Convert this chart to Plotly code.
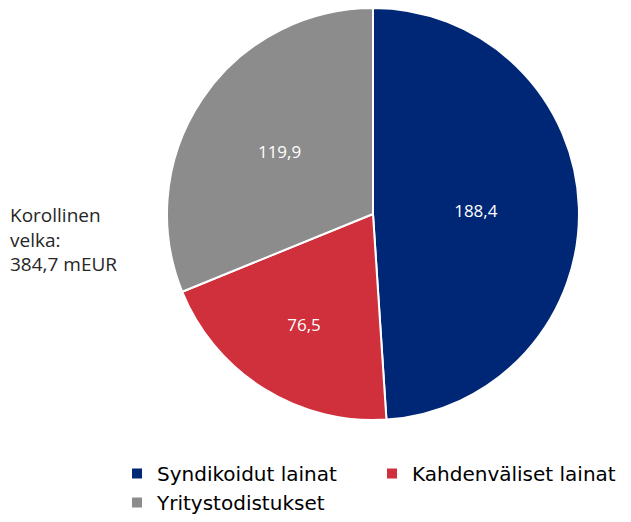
import plotly.graph_objects as go

# debt breakdown, mEUR
labels = ["Syndikoidut lainat", "Kahdenväliset lainat", "Yritystodistukset"]
values = [188.4, 76.5, 119.9]
value_texts = ["188,4", "76,5", "119,9"]
colors = ["#002776", "#D02F3C", "#8C8C8C"]
total_text = "Korollinen<br>velka:<br>384,7 mEUR"

# page body has an 8px margin, so the figure is drawn 8px smaller
W, H = 623, 514

fig = go.Figure()
fig.add_trace(go.Pie(
    labels=labels, values=values, text=value_texts,
    textinfo="text", textposition="inside", insidetextorientation="horizontal",
    sort=False, direction="clockwise", rotation=0,
    marker=dict(colors=colors, line=dict(color="white", width=2)),
    textfont=dict(family="Open Sans", size=17, color="white"),
    domain=dict(x=[0.2552, 0.9165], y=[0.1984, 1.0]),
))

fig.add_annotation(
    text=total_text, xref="paper", yref="paper", x=0.0, y=0.549,
    xanchor="left", yanchor="middle", align="left", showarrow=False,
    font=dict(family="Open Sans", size=19, color="#262626"),
)

fig.update_layout(
    width=W, height=H,
    margin=dict(l=0, r=0, t=0, b=0, autoexpand=False),
    paper_bgcolor="white",
    showlegend=True,
    legend=dict(orientation="h", x=0.175, y=0.0, xanchor="left", yanchor="bottom",
                entrywidth=210, entrywidthmode="pixels",
                font=dict(family="DejaVu Sans", size=20, color="#000000"),
                itemwidth=30, tracegroupgap=0),
    uniformtext=dict(minsize=12, mode="show"),
)

fig.write_html("out.html")
